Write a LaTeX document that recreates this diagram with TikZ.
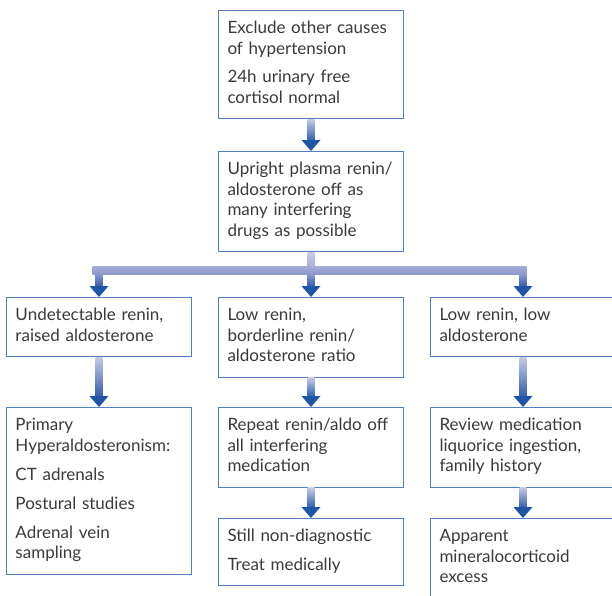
\documentclass[tikz,border=0pt]{standalone}
\usepackage{fontspec}
\setmainfont{Lato}
\usetikzlibrary{calc}

\definecolor{boxline}{HTML}{4F80C4}
\definecolor{textgray}{HTML}{3A3A3A}
\definecolor{headblue}{HTML}{1E55A6}
\definecolor{shaftlight}{HTML}{C8CCE6}
\definecolor{shaftdark}{HTML}{3360B0}
\definecolor{barlight}{HTML}{A6ACD6}
\definecolor{bardark}{HTML}{8F97CC}

\tikzset{
  flowbox/.style={draw=boxline, line width=1pt, anchor=north west,
    text width=167pt, inner sep=9pt, align=left, text=textgray,
    font=\fontsize{17}{20.5}\selectfont,
    execute at begin node=\strut, execute at end node=\strut},
}

% shaded shaft from one box down to the head on the next box
\newcommand{\flowarrow}[2]{%
  \shade[top color=shaftlight, bottom color=shaftdark]
    ($(#1.south)+(-3.5,0)$) rectangle ($(#2.north)+(3.5,11)$);
  \fill[headblue] ($(#2.north)+(-9.5,11)$) -- ($(#2.north)+(9.5,11)$)
    -- (#2.north) -- cycle;
}

\begin{document}
\begin{tikzpicture}[x=1pt,y=1pt]
\useasboundingbox (0,0) rectangle (612,-595);

% the boxes
\node[flowbox] (excl) at (218,-10) {Exclude other causes\\ of hypertension\\[8pt] 24h urinary free\\ cortisol normal};
\node[flowbox] (renin) at (218,-151) {Upright plasma renin/\\ aldosterone off as\\ many interfering\\ drugs as possible};

\node[flowbox] (undet) at (6,-297) {Undetectable renin,\\ raised aldosterone};
\node[flowbox] (lowb) at (218,-297) {Low renin,\\ borderline renin/\\ aldosterone ratio};
\node[flowbox] (lowlow) at (430,-297) {Low renin, low\\ aldosterone};

\node[flowbox] (primary) at (6,-407) {Primary\\ Hyperaldosteronism:\\[8.5pt] CT adrenals\\[8.5pt] Postural studies\\[8.5pt] Adrenal vein\\ sampling};
\node[flowbox] (repeat) at (218,-407) {Repeat renin/aldo off\\ all interfering\\ medication};
\node[flowbox] (review) at (430,-407) {Review medication\\ liquorice ingestion,\\ family history};

\node[flowbox] (still) at (218,-518) {Still non-diagnostic\\[8pt] Treat medically};
\node[flowbox] (apparent) at (430,-518) {Apparent\\ mineralocorticoid\\ excess};

% the single arrows
\flowarrow{excl}{renin}
\flowarrow{undet}{primary}
\flowarrow{lowb}{repeat}
\flowarrow{repeat}{still}
\flowarrow{lowlow}{review}
\flowarrow{review}{apparent}

% the split into three
\coordinate (bartop) at ($(renin.south)+(0,-16)$);
\shade[top color=shaftlight, bottom color=barlight]
  ($(renin.south)+(-3.5,0)$) rectangle ($(bartop)+(3.5,0)$);
\shade[top color=barlight, bottom color=bardark]
  ($(undet.north)+(-6.5,31)$) rectangle ($(lowlow.north)+(3.5,23)$);
\foreach \b in {undet,lowb,lowlow}{
  \shade[top color=bardark, bottom color=shaftdark]
    ($(\b.north)+(-3.5,23)$) rectangle ($(\b.north)+(3.5,11)$);
  \fill[headblue] ($(\b.north)+(-9.5,11)$) -- ($(\b.north)+(9.5,11)$)
    -- (\b.north) -- cycle;
}
\end{tikzpicture}
\end{document}
